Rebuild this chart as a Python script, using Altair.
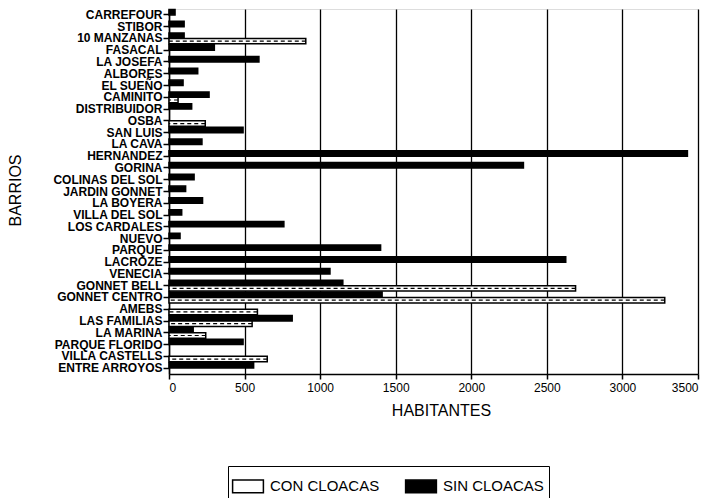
import altair as alt
import pandas as pd

barrios = ["CARREFOUR", "STIBOR", "10 MANZANAS", "FASACAL", "LA JOSEFA", "ALBORES",
           "EL SUEÑO", "CAMINITO", "DISTRIBUIDOR", "OSBA", "SAN LUIS", "LA CAVA",
           "HERNANDEZ", "GORINA", "COLINAS DEL SOL", "JARDIN GONNET", "LA BOYERA",
           "VILLA DEL SOL", "LOS CARDALES", "NUEVO", "PARQUE", "LACROZE", "VENECIA",
           "GONNET BELL", "GONNET CENTRO", "AMEBS", "LAS FAMILIAS", "LA MARINA",
           "PARQUE FLORIDO", "VILLA CASTELLS", "ENTRE ARROYOS"]
sin_cloacas = [40, 100, 100, 300, 595, 190, 93, 265, 150, 0, 490, 218,
               3430, 2345, 166, 110, 222, 84, 760, 73, 1400, 2625, 1065,
               1150, 1410, 0, 815, 160, 490, 0, 560]
con_cloacas = [0, 0, 905, 0, 0, 0, 0, 60, 0, 240, 0, 0,
               0, 0, 0, 0, 0, 0, 0, 0, 0, 0, 0,
               2690, 3280, 585, 550, 243, 0, 650, 0]
series = ["SIN CLOACAS", "CON CLOACAS"]
x_ticks = [0, 500, 1000, 1500, 2000, 2500, 3000, 3500]

rows = []
for b, s, c in zip(barrios, sin_cloacas, con_cloacas):
    rows.append({"barrio": b, "serie": "SIN CLOACAS", "valor": s})
    rows.append({"barrio": b, "serie": "CON CLOACAS", "valor": c})
df = pd.DataFrame(rows)
df = df[df["valor"] > 0]

FONT = "Liberation Sans"

y_enc = alt.Y("barrio:N", sort=barrios,
              scale=alt.Scale(paddingInner=0.08, paddingOuter=0.04),
              axis=alt.Axis(title="BARRIOS", titleFontSize=16, titleFont=FONT,
                            titleFontWeight="normal", titleAngle=270,
                            titleX=-154, titleY=181, titleAlign="center",
                            titleBaseline="middle",
                            labelFont=FONT, labelFontSize=12, labelFontWeight="bold",
                            labelPadding=1, labelOverlap=False, tickSize=6,
                            tickWidth=1.5, tickColor="black", domainColor="black",
                            domainWidth=1.5, labelColor="black", grid=False))
yoff_enc = alt.YOffset("serie:N", sort=series, scale=alt.Scale(domain=series, paddingInner=0.0))
x_enc = alt.X("valor:Q", scale=alt.Scale(domain=[0, 3500], nice=False),
              axis=alt.Axis(values=x_ticks, format="d", title="HABITANTES", titleFontSize=16,
                            titleFont=FONT, titleFontWeight="normal", titleX=272,
                            titleY=36, titleAlign="center", titleBaseline="middle",
                            labelFont=FONT, labelFontSize=12, labelColor="black",
                            labelPadding=3, tickSize=5, tickWidth=1.5,
                            tickColor="black", domainColor="black", domainWidth=1.5,
                            grid=True, gridColor="black", gridWidth=1.3,
                            gridOpacity=1))

bars = alt.Chart(df).mark_bar(stroke="black", strokeWidth=1.5).encode(
    y=y_enc,
    yOffset=yoff_enc,
    x=x_enc,
    fill=alt.Fill("serie:N",
                  scale=alt.Scale(domain=["CON CLOACAS", "SIN CLOACAS"],
                                  range=["white", "black"]),
                  legend=alt.Legend(title=None, orient="none", legendX=59,
                                    legendY=457, direction="horizontal",
                                    strokeColor="black", padding=5,
                                    labelFont=FONT, labelFontSize=15,
                                    labelColor="black", columnPadding=22,
                                    symbolType="M-1.1,-0.45H1.1V0.45H-1.1Z",
                                    symbolSize=784, symbolStrokeColor="black",
                                    symbolStrokeWidth=1.5, labelOffset=7)),
)

hatch = alt.Chart(df[df["serie"] == "CON CLOACAS"]).mark_rule(
    color="black", strokeWidth=1.2, strokeDash=[4, 3]
).encode(
    y=alt.Y("barrio:N", sort=barrios),
    yOffset=alt.YOffset("serie:N", sort=series, scale=alt.Scale(domain=series)),
    x=alt.X("valor:Q"),
    x2=alt.datum(0),
)

chart = alt.layer(bars, hatch).properties(
    width=529, height=365,
    autosize=alt.AutoSizeParams(type="none"),
    padding={"left": 161, "top": 1, "right": 8, "bottom": 130},
).configure_view(stroke="black", strokeWidth=1.5).configure(background="white")

chart.save("out.html", embed_options={"renderer": "svg", "actions": False})
